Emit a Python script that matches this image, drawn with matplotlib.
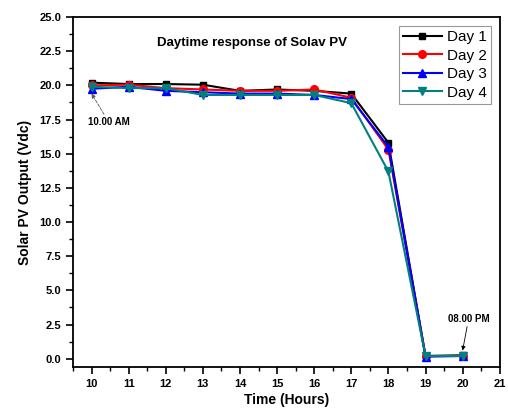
import matplotlib.pyplot as plt
from matplotlib.ticker import MultipleLocator

plt.rcParams['font.family'] = ['Liberation Sans', 'DejaVu Sans']

hours = [10, 11, 12, 13, 14, 15, 16, 17, 18, 19, 20]
day1 = [20.2, 20.1, 20.1, 20.05, 19.6, 19.7, 19.6, 19.4, 15.8, 0.2, 0.25]
day2 = [20.0, 20.05, 19.8, 19.7, 19.6, 19.6, 19.7, 19.1, 15.3, 0.2, 0.2]
day3 = [19.75, 19.9, 19.6, 19.5, 19.4, 19.4, 19.3, 19.0, 15.5, 0.15, 0.2]
day4 = [19.9, 19.8, 19.8, 19.3, 19.3, 19.3, 19.3, 18.7, 13.7, 0.2, 0.2]

fig = plt.figure(figsize=(5.08, 4.16), dpi=100)
ax = fig.add_axes([0.1437, 0.118, 0.84, 0.841])

ax.plot(hours, day1, color='black', marker='s', ms=5, lw=1.5, label='Day 1')
ax.plot(hours, day2, color='red', marker='o', ms=5.5, lw=1.5, label='Day 2')
ax.plot(hours, day3, color='blue', marker='^', ms=5.5, lw=1.5, label='Day 3')
ax.plot(hours, day4, color='#008080', marker='v', ms=5.5, lw=1.5, label='Day 4')

ax.set_xlim(9.5, 21)
ax.set_ylim(-0.6, 25)
ax.xaxis.set_major_locator(MultipleLocator(1))
ax.xaxis.set_minor_locator(MultipleLocator(0.5))
ax.yaxis.set_major_locator(MultipleLocator(2.5))
ax.yaxis.set_minor_locator(MultipleLocator(1.25))
ax.yaxis.set_major_formatter(plt.FormatStrFormatter('%.1f'))
ax.tick_params(which='major', length=5, width=1.2, labelsize=8)
ax.tick_params(which='minor', length=3, width=1)
for lbl in ax.get_xticklabels() + ax.get_yticklabels():
    lbl.set_fontweight('bold')
for s in ax.spines.values():
    s.set_linewidth(1.3)

ax.set_xlabel('Time (Hours)', fontsize=10, fontweight='bold', labelpad=3)
ax.set_ylabel('Solar PV Output (Vdc)', fontsize=10, fontweight='bold', labelpad=5)
ax.text(0.42, 0.925, 'Daytime response of Solav PV', transform=ax.transAxes,
        ha='center', va='center', fontsize=9.5, fontweight='bold')

ax.annotate('10.00 AM', xy=(10, 19.4), xytext=(9.9, 17.1), fontsize=7, fontweight='bold',
            arrowprops=dict(arrowstyle='-|>', color='#555555', lw=0.6, ls='--',
                            mutation_scale=6, shrinkA=0, shrinkB=0))
ax.annotate('08.00 PM', xy=(20, 0.6), xytext=(19.6, 2.7), fontsize=7, fontweight='bold',
            arrowprops=dict(arrowstyle='-|>', color='black', lw=0.6,
                            mutation_scale=6, shrinkA=0, shrinkB=0))

leg = ax.legend(loc='upper right', fontsize=11, fancybox=False, framealpha=1,
                edgecolor='#999999', handlelength=2.6, borderpad=0.25,
                labelspacing=0.3, handletextpad=0.3, borderaxespad=0.6)
leg.get_frame().set_linewidth(0.8)

fig.savefig('out.png', dpi=100)
